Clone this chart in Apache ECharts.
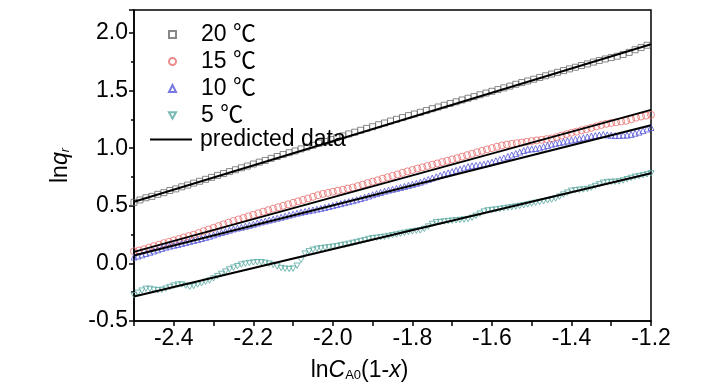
<!DOCTYPE html>
<html>
<head>
<meta charset="utf-8">
<script src="https://cdn.jsdelivr.net/npm/echarts@6/dist/echarts.min.js"></script>
<style>html,body{margin:0;padding:0;background:#fff}#c{width:728px;height:390px}</style>
</head>
<body>
<div id="c"></div>
<script>
// ---- data ----
const legendNames = ['20 ℃', '15 ℃', '10 ℃', '5 ℃', 'predicted data'];
const xTickLabels = ['-2.4', '-2.2', '-2.0', '-1.8', '-1.6', '-1.4', '-1.2'];
const yTickLabels = ['-0.5', '0.0', '0.5', '1.0', '1.5', '2.0'];

// sampling grids (start, step) of the measured points
const x20Start = -2.5, x20Step = 0.015;
const x15Start = -2.5, x15Step = 0.0125;
const x10Start = -2.5, x10Step = 0.01;
const x5Start = -2.5, x5Step = 0.01;

const y20 = [0.530,0.551,0.570,0.582,0.600,0.614,0.633,0.647,0.665,0.680,0.697,0.713,0.730,0.747,0.764,0.780,0.797,0.813,0.830,0.845,
0.863,0.879,0.894,0.912,0.928,0.945,0.961,0.976,0.994,1.010,1.026,1.043,1.058,1.075,1.092,1.107,1.124,1.139,1.156,1.172,
1.187,1.204,1.219,1.236,1.251,1.266,1.283,1.297,1.312,1.327,1.343,1.358,1.373,1.388,1.403,1.419,1.434,1.448,1.464,1.479,
1.494,1.509,1.524,1.539,1.555,1.570,1.584,1.599,1.614,1.629,1.644,1.659,1.674,1.689,1.703,1.718,1.732,1.748,1.762,1.775,
1.787,1.799,1.814,1.832,1.855,1.874,1.894];

const y15 = [0.105,0.112,0.123,0.137,0.150,0.163,0.176,0.187,0.200,0.212,0.225,0.237,0.250,0.264,0.280,0.295,0.309,0.324,0.339,0.354,
0.368,0.382,0.395,0.409,0.422,0.435,0.449,0.462,0.475,0.488,0.500,0.513,0.526,0.539,0.551,0.564,0.578,0.592,0.604,0.612,
0.622,0.631,0.640,0.650,0.659,0.671,0.684,0.697,0.710,0.722,0.735,0.748,0.760,0.773,0.786,0.799,0.811,0.824,0.834,0.845,
0.857,0.868,0.880,0.891,0.903,0.914,0.927,0.940,0.952,0.965,0.977,0.990,1.001,1.013,1.024,1.032,1.038,1.044,1.050,1.056,
1.062,1.068,1.073,1.079,1.085,1.097,1.110,1.122,1.134,1.144,1.155,1.166,1.177,1.190,1.202,1.212,1.219,1.225,1.232,1.238,
1.251,1.265,1.275,1.283,1.290];

const y10 = [0.055,0.064,0.074,0.086,0.097,0.108,0.118,0.130,0.141,0.150,0.157,0.164,0.173,0.182,0.191,0.199,0.207,0.216,0.226,0.236,
0.247,0.258,0.268,0.278,0.288,0.299,0.307,0.314,0.322,0.331,0.340,0.350,0.360,0.368,0.376,0.384,0.392,0.401,0.410,0.419,
0.428,0.436,0.444,0.451,0.458,0.464,0.471,0.478,0.486,0.494,0.502,0.511,0.519,0.528,0.536,0.544,0.553,0.563,0.574,0.585,
0.596,0.606,0.616,0.627,0.636,0.643,0.651,0.659,0.668,0.677,0.686,0.695,0.705,0.717,0.729,0.741,0.752,0.764,0.775,0.786,
0.797,0.808,0.818,0.829,0.840,0.847,0.851,0.856,0.861,0.868,0.879,0.891,0.903,0.915,0.928,0.941,0.954,0.967,0.980,0.990,
0.994,0.997,1.003,1.013,1.024,1.035,1.042,1.049,1.056,1.063,1.070,1.077,1.084,1.091,1.098,1.105,1.110,1.115,1.119,1.116,
1.113,1.110,1.111,1.113,1.114,1.120,1.130,1.140,1.153,1.167,1.180];

const y5 = [-0.277,-0.255,-0.236,-0.220,-0.221,-0.228,-0.233,-0.230,-0.219,-0.205,-0.193,-0.184,-0.183,-0.193,-0.204,-0.196,-0.183,-0.172,-0.160,-0.149,
-0.130,-0.110,-0.091,-0.071,-0.052,-0.037,-0.024,-0.010,-0.003,0.003,0.008,0.011,0.010,0.005,-0.002,-0.013,-0.026,-0.040,-0.046,-0.048,
-0.045,-0.020,0.030,0.085,0.105,0.118,0.127,0.131,0.136,0.140,0.145,0.150,0.157,0.163,0.170,0.178,0.186,0.194,0.202,0.212,
0.219,0.223,0.227,0.231,0.238,0.245,0.251,0.258,0.265,0.272,0.278,0.283,0.286,0.300,0.320,0.343,0.357,0.360,0.364,0.368,
0.371,0.374,0.377,0.381,0.385,0.396,0.413,0.432,0.450,0.460,0.464,0.468,0.473,0.478,0.483,0.488,0.494,0.499,0.505,0.512,
0.519,0.526,0.533,0.540,0.547,0.554,0.563,0.580,0.598,0.615,0.631,0.636,0.639,0.642,0.646,0.658,0.672,0.686,0.700,0.706,
0.708,0.709,0.711,0.720,0.731,0.742,0.752,0.758,0.765,0.773,0.782];

// predicted (fitted) lines: endpoints [x, y]
const fit20 = [[-2.5, 0.535], [-1.2, 1.902]];
const fit15 = [[-2.5, 0.100], [-1.2, 1.333]];
const fit10 = [[-2.5, 0.068], [-1.2, 1.200]];
const fit5  = [[-2.5, -0.288], [-1.2, 0.782]];

// ---- build ----
function pairs(start, step, ys) {
  return ys.map((v, i) => [+(start + i * step).toFixed(4), v]);
}
const FONT = "'Liberation Sans', Arial, 'Noto Sans CJK SC', sans-serif";
const DOWN_TRI = 'path://M0,0L10,0L5,9Z';

const chart = echarts.init(document.getElementById('c'), null, {renderer: 'canvas'});

function scatter(name, data, symbol, color, size) {
  return {
    name, type: 'scatter', data, symbol, symbolSize: size,
    symbolKeepAspect: true,
    itemStyle: {color: 'rgba(255,255,255,0)', borderColor: color, borderWidth: 1},
    emphasis: {disabled: true}, z: 2, animation: false
  };
}
function fitLine(data) {
  return {
    name: 'predicted data', type: 'line', data, symbol: 'none', showSymbol: false,
    lineStyle: {color: '#000', width: 2}, itemStyle: {color: '#000'}, z: 5, animation: false
  };
}

const legendText = {fontFamily: FONT, fontSize: 23, color: '#000', lineHeight: 27};

const option = {
  backgroundColor: '#fff',
  animation: false,
  grid: {left: 134, right: 77, top: 10, bottom: 69, show: true, borderColor: '#000', borderWidth: 1.5, backgroundColor: 'transparent', outerBoundsMode: 'none'},
  legend: [{
    data: [
      {name: legendNames[0], icon: 'rect'},
      {name: legendNames[1], icon: 'circle'},
      {name: legendNames[2], icon: 'triangle'},
      {name: legendNames[3], icon: DOWN_TRI}
    ],
    orient: 'vertical', left: 163, top: 16,
    itemWidth: 7, itemHeight: 7, itemGap: 0,
    textStyle: Object.assign({padding: [0, 0, 0, 20]}, legendText),
    selectedMode: false
  }, {
    data: [{name: legendNames[4], icon: 'rect'}], orient: 'vertical', left: 145, top: 121,
    itemWidth: 42, itemHeight: 2,
    itemStyle: {color: '#000', borderWidth: 0},
    textStyle: Object.assign({padding: [0, 0, 0, 3]}, legendText),
    selectedMode: false
  }],
  xAxis: {
    type: 'value', min: -2.5, max: -1.2, interval: 0.1,
    axisLine: {show: true, onZero: false, lineStyle: {color: '#000', width: 1.5}},
    axisTick: {show: true, inside: false, length: 5, lineStyle: {color: '#000', width: 1.5}},
    splitLine: {show: false},
    axisLabel: {
      margin: 6, fontFamily: FONT, fontSize: 23, color: '#000',
      formatter: function (v) {
        const k = Math.round(v * 10);
        const s = (k / 10).toFixed(1);
        return (k % 2 === 0 && xTickLabels.indexOf(s) >= 0) ? s : '';
      }
    },
    name: '{n|ln}{i|C}{s|A0}{n|(1-}{i|x}{n|)}',
    nameLocation: 'middle', nameGap: 38,
    nameTextStyle: {
      padding: [0, 66, 0, 0],
      rich: {
        n: {fontFamily: FONT, fontSize: 23, color: '#000'},
        i: {fontFamily: FONT, fontSize: 23, color: '#000', fontStyle: 'italic'},
        s: {fontFamily: FONT, fontSize: 13, color: '#000', verticalAlign: 'bottom', padding: [8, 0, 0, 0]}
      }
    }
  },
  yAxis: {
    type: 'value', min: -0.5, max: 2.2, interval: 0.5,
    axisLine: {show: true, onZero: false, lineStyle: {color: '#000', width: 1.5}},
    axisTick: {show: true, inside: false, length: 5, lineStyle: {color: '#000', width: 1.5}},
    minorTick: {show: true, splitNumber: 2, length: 3, lineStyle: {color: '#000', width: 1.5}},
    splitLine: {show: false}, minorSplitLine: {show: false},
    axisLabel: {
      margin: 6, fontFamily: FONT, fontSize: 23, color: '#000',
      formatter: function (v) {
        const s = v.toFixed(1);
        return yTickLabels.indexOf(s) >= 0 && Math.abs(v * 2 - Math.round(v * 2)) < 1e-6 ? s : '';
      }
    },
    name: '{n|ln}{i|q}{s|r}',
    nameLocation: 'middle', nameRotate: 90, nameGap: 62,
    nameTextStyle: {
      rich: {
        n: {fontFamily: FONT, fontSize: 23, color: '#000'},
        i: {fontFamily: FONT, fontSize: 23, color: '#000', fontStyle: 'italic'},
        s: {fontFamily: FONT, fontSize: 13, color: '#000', fontStyle: 'italic', verticalAlign: 'bottom', padding: [8, 0, 0, 0]}
      }
    }
  },
  series: [
    scatter(legendNames[0], pairs(x20Start, x20Step, y20), 'rect', '#6a6a6a', 6),
    scatter(legendNames[1], pairs(x15Start, x15Step, y15), 'circle', '#e86b6b', 7),
    scatter(legendNames[2], pairs(x10Start, x10Step, y10), 'triangle', '#5555d8', 6),
    scatter(legendNames[3], pairs(x5Start, x5Step, y5), DOWN_TRI, '#58a8a0', 6),
    fitLine(fit20), fitLine(fit15), fitLine(fit10), fitLine(fit5)
  ]
};
chart.setOption(option);
</script>
</body>
</html>
